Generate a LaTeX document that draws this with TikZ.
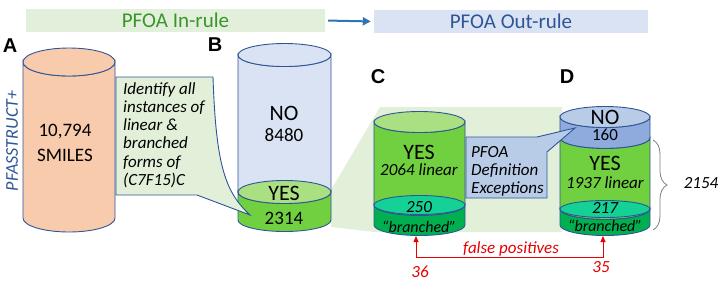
\documentclass[tikz,border=0pt]{standalone}
\usepackage{fontspec}
\setmainfont{Carlito}
\newfontfamily\lblfont{Liberation Sans}
\usetikzlibrary{positioning,arrows.meta,decorations.pathreplacing}
\definecolor{rulegreen}{RGB}{226,239,218}
\definecolor{rulegreentxt}{RGB}{56,150,40}
\definecolor{ruleblue}{RGB}{218,227,243}
\definecolor{rulebluetxt}{RGB}{47,85,151}
\definecolor{arrowblue}{RGB}{46,117,182}
\definecolor{cylline}{RGB}{47,85,151}
\definecolor{salmon}{RGB}{248,203,173}
\definecolor{nofill}{RGB}{218,227,243}
\definecolor{nodark}{RGB}{143,170,220}
\definecolor{nolight}{RGB}{184,204,232}
\definecolor{yesfill}{RGB}{112,208,64}
\definecolor{yeslight}{RGB}{170,224,130}
\definecolor{mint}{RGB}{20,210,150}
\definecolor{brgreen}{RGB}{0,176,80}
\definecolor{wedge}{RGB}{226,240,217}
\definecolor{fpred}{RGB}{230,0,0}
\newcommand{\fsz}[2]{\fontsize{#1}{#2}\selectfont}
% band of a cylinder: cx, rx, y top, y bottom, ry, fill
\newcommand{\cylband}[6]{%
  \filldraw[cyl,fill=#6] (#1-#2,#3) -- (#1-#2,#4)
    arc[start angle=180,end angle=360,x radius=#2pt,y radius=#5pt]
    -- (#1+#2,#3)
    arc[start angle=0,end angle=-180,x radius=#2pt,y radius=#5pt] -- cycle;}
% full ellipse: cx, rx, y, ry, fill
\newcommand{\cyltop}[5]{%
  \filldraw[cyl,fill=#5] (#1,#3) ellipse[x radius=#2pt,y radius=#4pt];}
\tikzset{
  rulebox/.style={minimum height=23pt,inner sep=0pt,font=\fsz{21}{24}},
  panel/.style={font=\lblfont\bfseries\fsz{20}{22},inner sep=0pt},
  cyl/.style={draw=cylline,line width=0.9pt},
  bigtxt/.style={font=\fsz{22}{24},inner sep=0pt},
  numtxt/.style={font=\fsz{19}{21},inner sep=0pt},
  ittxt/.style={font=\itshape\fsz{17}{19},inner sep=0pt},
  brtxt/.style={font=\itshape\fsz{16}{18},inner sep=0pt},
  note/.style={font=\itshape\fsz{17}{18.3},align=left,inner sep=0pt,anchor=north west},
  callout/.style={draw=cylline,line width=0.9pt},
  ln/.style={-{Triangle[length=8pt,width=8pt]},line width=2pt,arrowblue},
  fpln/.style={{Triangle[length=6pt,width=5pt]}-{Triangle[length=6pt,width=5pt]},
               fpred,line width=0.8pt},
  brc/.style={decorate,decoration={brace,amplitude=14pt},draw=gray,line width=0.8pt},
}

\begin{document}
\begin{tikzpicture}[x=1pt,y=-1pt,
  fptxt/.style={font=\itshape\fsz{17}{19},fpred,inner sep=0pt}]
\useasboundingbox (0,0) rectangle (726,285);

% ------------------------------------------------ rule headers
\node[rulebox,fill=rulegreen,text=rulegreentxt,minimum width=299pt]
  (rulein) at (175.5,20.5) {PFOA In-rule};
\node[rulebox,fill=ruleblue,text=rulebluetxt,minimum width=274pt]
  (ruleout) at (511,21.5) {PFOA Out-rule};
\draw[ln,shorten <=3pt,shorten >=3pt] (rulein.east) -- (ruleout.west);

\foreach \p/\x/\y in {A/10/46, B/215/45, C/378/77, D/567/77}
  {\node[panel] (lbl\p) at (\x,\y) {\p};}

% ------------------------------------------------ wedge B -> C -> D
\fill[wedge] (331,190) -- (380,107) -- (562,107) -- (562,232)
  -- (375,232) -- (331,227) -- cycle;

% ------------------------------------------------ A: all SMILES
\node[rotate=90,font=\itshape\fsz{18}{20},text=rulebluetxt,inner sep=0pt]
  (pfas) at (12,141) {PFASSTRUCT+};
\cylband{69}{46}{62}{218}{14}{salmon}
\cyltop{69}{46}{62}{14}{salmon}
\node[numtxt] (asmi) at (65,132) {10,794};
\node[numtxt] (asmn) at (65,155) {SMILES};

% ------------------------------------------------ B: in-rule result
\cylband{284.5}{46.5}{55}{192}{11.5}{nofill}
\cylband{284.5}{46.5}{192}{220}{11.5}{yesfill}
\cyltop{284.5}{46.5}{192}{11.5}{yeslight}
\cyltop{284.5}{46.5}{55}{11.5}{nofill}
\node[bigtxt] (bno) at (284,113) {NO};
\node[numtxt] (bnonum) at (284,135) {8480};
\node[bigtxt] (byes) at (284,193) {YES};
\node[numtxt] (byesnum) at (284,218) {2314};

% callout A -> B
\filldraw[callout,fill=wedge] (116,77) -- (213,77)
  .. controls (216,165) and (225,192) .. (250,215)
  -- (197,195) -- (116,195) -- cycle;
\node[note] (idnote) at (123,82)
  {Identify all\\instances of\\linear \&\\branched\\forms of\\(C7F15)C};

% ------------------------------------------------ C: in-rule YES
\cylband{419.5}{45.5}{122}{205}{10.5}{yesfill}
\cylband{419.5}{45.5}{205}{225}{10.5}{brgreen}
\cyltop{419.5}{45.5}{205}{9.5}{mint}
\cyltop{419.5}{45.5}{122}{10.5}{yeslight}
\node[bigtxt] (cyes) at (419,152) {YES};
\node[ittxt] (clin) at (419,170) {2064 linear};
\node[ittxt] (cbrn) at (419,207) {250};
\node[brtxt] (cbrq) at (419,227) {“branched”};

% ------------------------------------------------ D: out-rule result
\cylband{605}{45}{117}{138}{10.5}{nodark}
\cylband{605}{45}{138}{209}{10.5}{yesfill}
\cylband{605}{45}{209}{225}{10.5}{brgreen}
\cyltop{605}{45}{209}{8.5}{mint}
\cyltop{605}{45}{117}{10.5}{nolight}
\node[bigtxt] (dno) at (605,117) {NO};
\node[ittxt,font=\fsz{17}{19}] (dnonum) at (605,135) {160};
\node[bigtxt] (dyes) at (605,163) {YES};
\node[ittxt] (dlin) at (605,183) {1937 linear};
\node[ittxt] (dbrn) at (605,208) {217};
\node[brtxt] (dbrq) at (605,226) {“branched”};

% callout C -> D
\filldraw[callout,fill=nolight] (466,137) -- (537,137) -- (575,128)
  -- (547,152) -- (547,198) -- (466,198) -- cycle;
\node[note] (exnote) at (471,146) {PFOA\\Definition\\Exceptions};

% brace over D's YES part
\coordinate (brT) at (653,140);
\coordinate (brB) at (653,230);
\draw[brc] (brT) -- (brB);
\node[ittxt] (dsum) at (701,183) {2154};

% ------------------------------------------------ false positives
\coordinate (cbot) at (416,236);
\coordinate (dbot) at (603,236);
\coordinate (fpL) at (416,257);
\coordinate (fpR) at (603,257);
\draw[fpln] (cbot) -- (fpL) -- (fpR) -- (dbot);
\node[fptxt] (fplbl) at (511,249) {false positives};
\node[fptxt] (fpc) at (420,272) {36};
\node[fptxt] (fpd) at (601,267) {35};

\end{tikzpicture}
\end{document}
